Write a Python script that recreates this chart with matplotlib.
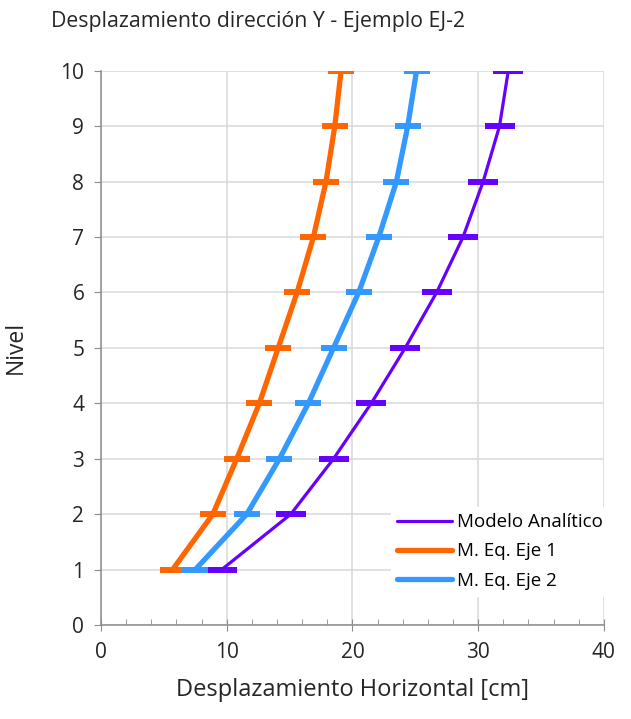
import matplotlib.pyplot as plt
from matplotlib.ticker import MultipleLocator

plt.rcParams['font.family'] = ['Open Sans', 'DejaVu Sans']

# Data
niveles = [1, 2, 3, 4, 5, 6, 7, 8, 9, 10]
modelo_analitico = [9.6, 15.1, 18.5, 21.5, 24.2, 26.7, 28.8, 30.4, 31.7, 32.4]
eq_eje1 = [5.7, 8.9, 10.8, 12.6, 14.1, 15.6, 16.9, 17.9, 18.6, 19.1]
eq_eje2 = [7.5, 11.6, 14.2, 16.5, 18.5, 20.5, 22.1, 23.5, 24.4, 25.1]

c_mod = '#6600ff'
c_e1 = '#ff6600'
c_e2 = '#3399ff'

fig = plt.figure(figsize=(6.31, 7.19), dpi=100)
ax = fig.add_axes([0.160, 0.1307, 0.797, 0.771])

ax.plot(modelo_analitico, niveles, color=c_mod, lw=2.3, marker='_', ms=21.6, mew=4.3,
        label='Modelo Analítico', solid_capstyle='round')
ax.plot(eq_eje1, niveles, color=c_e1, lw=3.8, marker='_', ms=19.4, mew=4.3,
        label='M. Eq. Eje 1', solid_capstyle='round')
ax.plot(eq_eje2, niveles, color=c_e2, lw=3.8, marker='_', ms=19.4, mew=4.3,
        label='M. Eq. Eje 2', solid_capstyle='round')

ax.set_xlim(0, 40)
ax.set_ylim(0, 10)
ax.xaxis.set_major_locator(MultipleLocator(10))
ax.xaxis.set_minor_locator(MultipleLocator(2))
ax.yaxis.set_major_locator(MultipleLocator(1))

ax.grid(True, which='major', color='#d9d9d9', lw=1.1)
ax.set_axisbelow(True)
for s in ['top', 'right']:
    ax.spines[s].set_visible(False)
for s in ['left', 'bottom']:
    ax.spines[s].set_color('#8c8c8c')
    ax.spines[s].set_linewidth(1.1)

ax.tick_params(axis='x', which='major', direction='inout', length=8, color='#8c8c8c',
               labelsize=15, labelcolor='#262626', pad=8)
ax.tick_params(axis='x', which='minor', direction='in', length=4, color='#8c8c8c')
ax.tick_params(axis='y', which='major', direction='out', length=5, color='#8c8c8c',
               labelsize=15, labelcolor='#262626', pad=7)

ax.set_xlabel('Desplazamiento Horizontal [cm]', fontsize=17, color='#262626', labelpad=11)
ax.set_ylabel('Nivel', fontsize=16.5, color='#262626')
ax.yaxis.set_label_coords(-0.145, 0.5)

fig.text(258 / 631, 1 - 22 / 719, 'Desplazamiento dirección Y - Ejemplo EJ-2',
         ha='center', va='center', fontsize=15.3, color='#262626')

leg = ax.legend(loc='lower right', bbox_to_anchor=(1.03, 0.035), fontsize=13.5,
                frameon=True, fancybox=False, framealpha=1, edgecolor='white',
                handlelength=2.9, handletextpad=0.3, borderpad=0.35, labelspacing=0.6)
for h in leg.legend_handles:
    h.set_marker('')

fig.savefig('out.png', dpi=100)
